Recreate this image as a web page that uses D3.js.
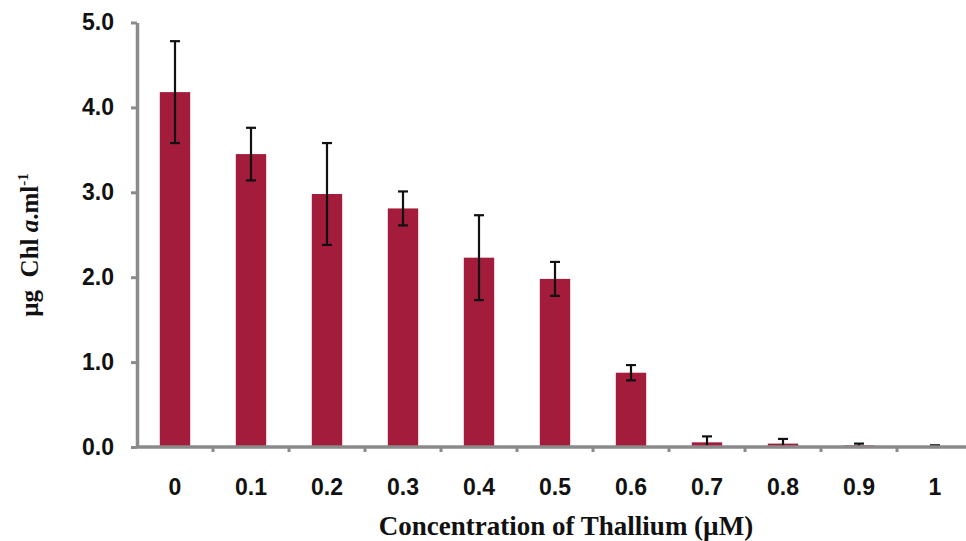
<!DOCTYPE html>
<html>
<head>
<meta charset="utf-8">
<script src="https://cdn.jsdelivr.net/npm/d3@7/dist/d3.min.js"></script>
<style>
  html, body { margin: 0; padding: 0; background: #fff; }
  svg { display: block; }
</style>
</head>
<body>
<svg id="chart" width="966" height="541"></svg>
<script>
// Thallium concentrations (µM)
const concentrations = ["0", "0.1", "0.2", "0.3", "0.4", "0.5", "0.6", "0.7", "0.8", "0.9", "1"];
// Mean chlorophyll a (µg/ml)
const chlMeans = [4.18, 3.45, 2.98, 2.81, 2.23, 1.98, 0.875, 0.055, 0.04, 0.02, 0.01];
// Standard deviations
const chlErrors = [0.60, 0.31, 0.60, 0.20, 0.50, 0.20, 0.09, 0.07, 0.055, 0.02, 0.01];
// Y axis ticks
const yTicks = [0, 1, 2, 3, 4, 5];

const svg = d3.select("#chart");

const x = d3.scaleBand()
  .domain(concentrations)
  .range([137, 973])
  .paddingInner(0.6)
  .paddingOuter(0.3);

const y = d3.scaleLinear().domain([0, 5]).range([447, 22.5]);

const barColor = "#a31c3b";
const axisColor = "#8a8a8a";
const sans = "'Liberation Sans', Arial, sans-serif";
const serif = "'Liberation Serif', 'Times New Roman', serif";

// bars
svg.append("g")
  .selectAll("rect")
  .data(concentrations)
  .join("rect")
  .attr("x", d => x(d))
  .attr("width", x.bandwidth())
  .attr("y", (d, i) => y(chlMeans[i]))
  .attr("height", (d, i) => y(0) - y(chlMeans[i]))
  .attr("fill", barColor);

// error bars
const eb = svg.append("g").attr("stroke", "#111").attr("stroke-width", 2.2).attr("fill", "none");
concentrations.forEach((c, i) => {
  const cx = x(c) + x.bandwidth() / 2;
  const lo = Math.max(0, chlMeans[i] - chlErrors[i]);
  const hi = chlMeans[i] + chlErrors[i];
  eb.append("line").attr("x1", cx).attr("x2", cx).attr("y1", y(lo)).attr("y2", y(hi));
  eb.append("line").attr("x1", cx - 5).attr("x2", cx + 5).attr("y1", y(hi)).attr("y2", y(hi));
  eb.append("line").attr("x1", cx - 5).attr("x2", cx + 5).attr("y1", y(lo)).attr("y2", y(lo));
});

// y axis
const yAxis = svg.append("g")
  .attr("transform", "translate(137,0)")
  .call(d3.axisLeft(y).tickValues(yTicks).tickFormat(d3.format(".1f")).tickSize(6).tickPadding(17).tickSizeOuter(0));
yAxis.select(".domain").attr("stroke", axisColor).attr("stroke-width", 3.5);
yAxis.selectAll(".tick line").attr("stroke", axisColor).attr("stroke-width", 3);
yAxis.selectAll(".tick text")
  .attr("font-family", sans)
  .attr("font-weight", "bold")
  .attr("font-size", 23)
  .attr("fill", "#111");

// x axis: baseline plus boundary ticks between categories
const xAxisG = svg.append("g").attr("transform", `translate(0,${y(0)})`);
xAxisG.append("line")
  .attr("x1", 137).attr("x2", 973).attr("y1", 0).attr("y2", 0)
  .attr("stroke", axisColor).attr("stroke-width", 3.5);
xAxisG.selectAll("line.sep")
  .data(concentrations.slice(1))
  .join("line")
  .attr("class", "sep")
  .attr("x1", d => x(d) - x.step() * x.paddingInner() / 2)
  .attr("x2", d => x(d) - x.step() * x.paddingInner() / 2)
  .attr("y1", 0).attr("y2", 5)
  .attr("stroke", axisColor).attr("stroke-width", 3);
xAxisG.selectAll("text")
  .data(concentrations)
  .join("text")
  .attr("x", d => x(d) + x.bandwidth() / 2)
  .attr("y", 48)
  .attr("text-anchor", "middle")
  .attr("font-family", sans)
  .attr("font-weight", "bold")
  .attr("font-size", 23)
  .attr("fill", "#111")
  .text(d => d);

// x axis title
svg.append("text")
  .attr("x", 566)
  .attr("y", 535)
  .attr("text-anchor", "middle")
  .attr("font-family", serif)
  .attr("font-weight", "bold")
  .attr("font-size", 27)
  .attr("fill", "#111")
  .text("Concentration of Thallium (µM)");

// y axis title
const yTitle = svg.append("text")
  .attr("transform", "translate(38,245) rotate(-90)")
  .attr("text-anchor", "middle")
  .attr("font-family", serif)
  .attr("font-weight", "bold")
  .attr("font-size", 25)
  .attr("fill", "#111");
yTitle.append("tspan").text("µg\u00A0\u00A0Chl ");
yTitle.append("tspan").attr("font-style", "italic").text("a");
yTitle.append("tspan").text(".ml");
yTitle.append("tspan").attr("font-size", 15).attr("dy", -10).text("-1");
</script>
</body>
</html>
